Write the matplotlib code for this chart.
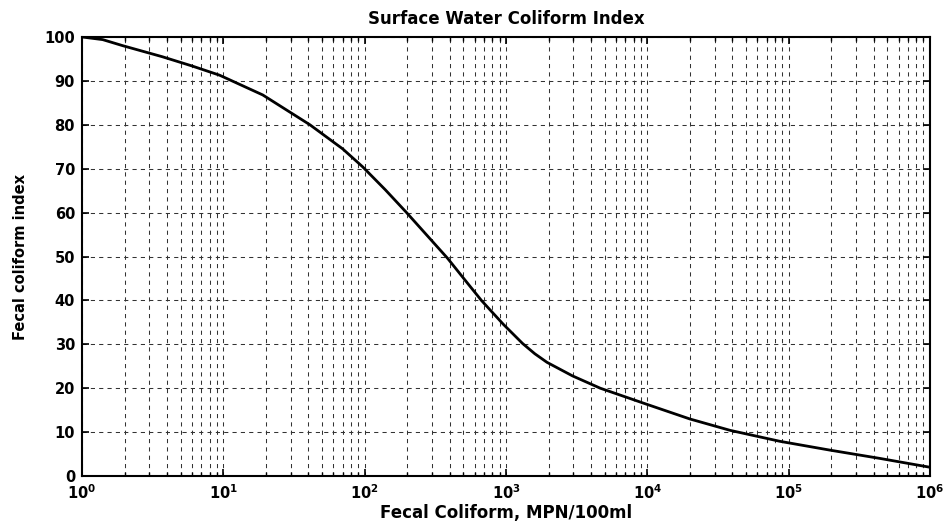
import matplotlib
matplotlib.use("Agg")
import matplotlib.pyplot as plt
from matplotlib.ticker import LogLocator, MultipleLocator, NullFormatter

fecal_coliform = [1, 1.4, 1.95, 3.7, 6, 9.4, 19, 41, 70, 97, 140, 198, 280, 386, 520, 670,
                  955, 1310, 1600, 1950, 2960, 4650, 10000, 20000, 38600, 87000, 196000, 445000, 1000000]
coliform_index = [100, 99.4, 98.0, 95.5, 93.4, 91.3, 86.8, 80, 74.5, 70.4, 65.2, 60.0, 54.6, 49.6, 44.4, 40.0,
                  34.6, 30.2, 27.85, 25.9, 22.8, 20.0, 16.3, 13.0, 10.4, 7.9, 5.9, 4.0, 2.0]

title = "Surface Water Coliform Index"
xlabel = "Fecal Coliform, MPN/100ml"
ylabel = "Fecal coliform index"

plt.rcParams['font.family'] = ['DejaVu Sans']
plt.rcParams['font.weight'] = 'bold'
plt.rcParams['mathtext.fontset'] = 'custom'
plt.rcParams['mathtext.rm'] = 'DejaVu Sans:bold'
plt.rcParams['mathtext.it'] = 'DejaVu Sans:bold'
plt.rcParams['mathtext.bf'] = 'DejaVu Sans:bold'

fig = plt.figure(figsize=(9.46, 5.26), dpi=100)
ax = fig.add_axes([0.0867, 0.095, 0.8963, 0.8347])

ax.plot(fecal_coliform, coliform_index, color='black', lw=2.0, zorder=3,
        solid_joinstyle='round')

ax.set_xscale('log')
ax.set_xlim(1, 1e6)
ax.set_ylim(0, 100)
ax.yaxis.set_major_locator(MultipleLocator(10))
ax.xaxis.set_major_locator(LogLocator(base=10, numticks=10))
ax.xaxis.set_minor_locator(LogLocator(base=10, subs=range(2, 10), numticks=100))
ax.xaxis.set_minor_formatter(NullFormatter())

ax.grid(True, which='major', axis='both', color='#333333', lw=0.75, linestyle=(0, (4, 4)))
ax.grid(True, which='minor', axis='x', color='#333333', lw=0.75, linestyle=(0, (4, 4)))

ax.tick_params(which='both', direction='in', top=True, right=True, labelsize=10.5, pad=5)
ax.tick_params(which='major', length=5, width=1.2)
ax.tick_params(which='minor', length=3, width=1.0)
for s in ax.spines.values():
    s.set_linewidth(1.5)

ax.set_title(title, fontsize=12, fontweight='bold', pad=9)
ax.set_xlabel(xlabel, fontsize=12, fontweight='bold', labelpad=2)
ax.set_ylabel(ylabel, fontsize=10.5, fontweight='bold', labelpad=12)

fig.savefig("out.png", dpi=100)
